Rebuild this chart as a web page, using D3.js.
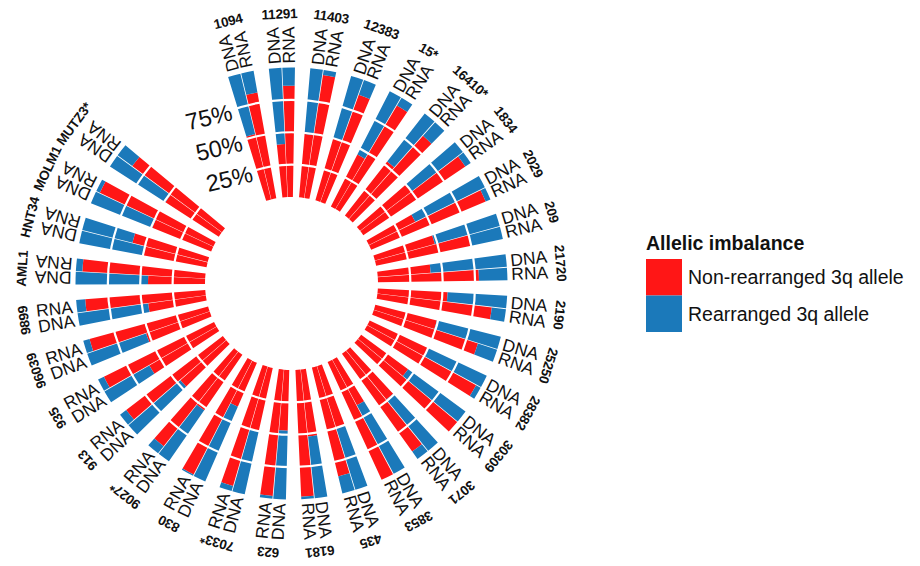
<!DOCTYPE html>
<html><head><meta charset="utf-8">
<script src="https://cdn.jsdelivr.net/npm/d3@7"></script>
<style>body{margin:0;background:#fff}svg{display:block}text{font-family:"Liberation Sans",Arial,Helvetica,sans-serif}</style>
</head><body>
<svg id="c" width="920" height="566"></svg>
<script>
// ---- data ----
const samples = ["1094","11291","11403","12383","15*","16410*","1834","2029","209","21720","2190","25250","28382","30309","3071","3853","435","6181","623","7033*","830","9027*","913","935","96039","9899","AML1","HNT34","MOLM1","MUTZ3*"];
const assays = ["DNA","RNA"];
// fraction of the non-rearranged 3q allele (remainder = rearranged allele)
const dnaNonRearranged = [0.52,0.41,0.49,0.50,0.45,0.53,0.50,0.40,0.48,0.41,0.54,0.49,0.50,0.45,0.49,0.40,0.50,0.52,0.47,0.50,0.37,0.52,0.47,0.60,0.52,0.45,0.44,0.50,0.49,0.49];
const rnaNonRearranged = [0.83,0.86,0.96,0.88,0.93,0.86,0.95,0.96,0.75,0.78,0.89,0.845,0.96,1.00,0.93,1.00,0.865,0.98,0.98,0.96,0.99,0.93,0.94,0.95,0.95,0.93,0.95,0.60,0.97,0.86];
const gridTicks = [0.25,0.5,0.75];
const gridLabels = ["25%","50%","75%"];
const legendTitle = "Allelic imbalance";
const legendLabels = ["Non-rearranged 3q allele","Rearranged 3q allele"];
const colors = ["#FF1616","#1B79BA"];

// ---- layout ----
const deg = Math.PI/180;
const cx = 291.5, cy = 283.5;
const slot = 11.03, startDeg = -19.1;
const svg = d3.select("#c");
const g = svg.append("g").attr("transform",`translate(${cx},${cy})`);

const x = d3.scaleBand().domain(samples)
  .range([startDeg*deg, (startDeg + samples.length*slot)*deg]);
const xSub = d3.scaleBand().domain(assays).range([0, x.bandwidth()])
  .paddingInner(0.06).paddingOuter(0.57);
const y = d3.scaleLinear().domain([0,1]).range([86.5,216]);
const fill = d3.scaleOrdinal().domain(legendLabels).range(colors);

const rows = [];
samples.forEach((s,i)=>{
  rows.push({sample:s, assay:"DNA", v:dnaNonRearranged[i]});
  rows.push({sample:s, assay:"RNA", v:rnaNonRearranged[i]});
});
const segs = [];
rows.forEach(r=>{
  const a0 = x(r.sample)+xSub(r.assay), a1 = a0+xSub.bandwidth();
  segs.push({a0,a1,lo:0,hi:r.v,key:legendLabels[0]});
  segs.push({a0,a1,lo:r.v,hi:1,key:legendLabels[1]});
});
const arc = d3.arc();
g.selectAll("path.bar").data(segs.filter(d=>d.hi>d.lo)).join("path")
  .attr("class","bar")
  .attr("d",d=>arc({innerRadius:y(d.lo),outerRadius:y(d.hi),startAngle:d.a0,endAngle:d.a1}))
  .attr("fill",d=>fill(d.key));

// white gridlines
g.selectAll("circle.grid").data(gridTicks).join("circle")
  .attr("r",d=>y(d)).attr("fill","none").attr("stroke","#fff").attr("stroke-width",2.2);

const pt = (a,r)=>[r*Math.sin(a), -r*Math.cos(a)];

// DNA / RNA labels
g.selectAll("text.assay").data(rows).join("text")
  .attr("class","assay")
  .each(function(d){
    const am = x(d.sample)+xSub(d.assay)+xSub.bandwidth()/2;
    let ad = ((am/deg)%360+360)%360;
    let rot = ad-90, anchor="start";
    if (ad>180 && ad<270){ rot -= 180; anchor="end"; }
    const [px,py] = pt(am, y(1)+4);
    d3.select(this).attr("transform",`translate(${px},${py}) rotate(${rot})`)
      .attr("text-anchor",anchor).attr("dy","0.36em");
  })
  .attr("font-size",17.5).attr("fill","#111")
  .text(d=>d.assay);

// sample id labels (tangential)
g.selectAll("text.sid").data(samples).join("text")
  .attr("class","sid")
  .attr("transform",s=>{
    const am = x(s)+x.bandwidth()/2;
    const [px,py] = pt(am,270);
    return `translate(${px},${py}) rotate(${am/deg})`;
  })
  .attr("text-anchor","middle").attr("dy","0.36em")
  .attr("font-size",13.5).attr("font-weight","bold").attr("letter-spacing",-0.2).attr("fill","#111")
  .text(s=>s);

// percentage labels
g.selectAll("text.pct").data(gridTicks).join("text")
  .attr("class","pct")
  .attr("transform",(d)=>{
    const [px,py] = pt(-18.5*deg, y(d)-8);
    return `translate(${px-27},${py}) rotate(-13)`;
  })
  .attr("text-anchor","middle").attr("dy","0.36em")
  .attr("font-size",23.5).attr("fill","#111")
  .text((d,i)=>gridLabels[i]);

// legend
const lg = svg.append("g").attr("transform","translate(646,0)");
lg.append("text").attr("x",0).attr("y",250).attr("font-size",19.5).attr("font-weight","bold")
  .attr("fill","#111").text(legendTitle);
lg.selectAll("rect").data(legendLabels).join("rect")
  .attr("x",0).attr("y",(d,i)=>259+i*36.5).attr("width",36).attr("height",36.5)
  .attr("fill",d=>fill(d));
lg.selectAll("text.lab").data(legendLabels).join("text").attr("class","lab")
  .attr("x",42).attr("y",(d,i)=>284+i*36.5).attr("font-size",19.5).attr("fill","#111")
  .text(d=>d);
</script>
</body></html>
